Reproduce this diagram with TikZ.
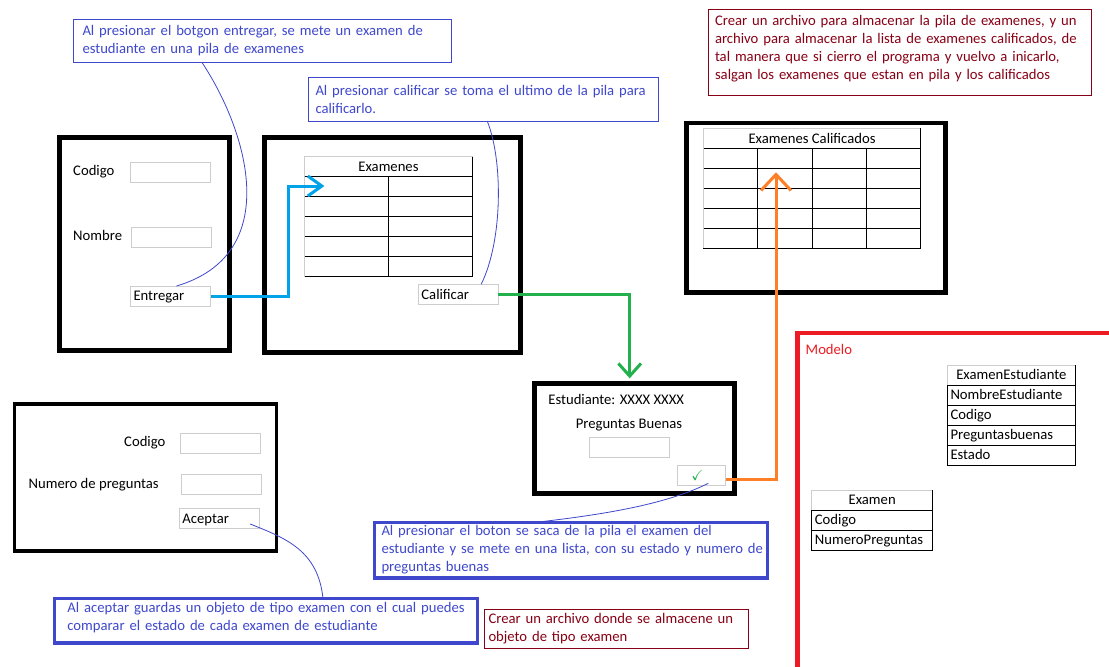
\documentclass[tikz,border=0pt]{standalone}
\usepackage{fontspec}
\setmainfont{Carlito}
\usepackage{amssymb}
\usetikzlibrary{arrows.meta}
\usetikzlibrary{positioning}

\definecolor{noteblue}{RGB}{63,72,204}
\definecolor{notered}{RGB}{136,0,21}
\definecolor{modelred}{RGB}{237,28,36}
\definecolor{pushblue}{RGB}{0,162,232}
\definecolor{gradegreen}{RGB}{34,177,76}
\definecolor{saveorange}{RGB}{255,127,39}
\definecolor{boxgray}{RGB}{205,205,205}

\newcommand{\ui}{\fontsize{14.67}{18}\selectfont}

\tikzset{
  win/.style={draw, line width=5pt, inner sep=0pt, outer sep=0pt},
  field/.style={draw=boxgray, line width=1pt, minimum width=80pt, minimum height=20pt, inner sep=0pt, outer sep=0pt},
  button/.style={field, text width=74pt, inner xsep=3pt, align=left, text height=12pt, text depth=2.6pt},
  lbl/.style={inner sep=0pt, text height=12pt, text depth=2.6pt},
  note/.style={draw=noteblue, text=noteblue, line width=1pt, anchor=north west, align=left,
    inner xsep=1pt, inner ysep=0pt, outer sep=0pt, execute at begin node={\leftskip=#1}},
  note/.default=6pt,
  filenote/.style={note=#1, draw=notered, text=notered},
  filenote/.default=6pt,
  callout/.style={draw=noteblue, line width=0.8pt},
  gridhead/.style={draw=boxgray, line width=1pt, minimum height=20pt, inner sep=0pt, outer sep=0pt, anchor=north west, text height=12pt, text depth=2.6pt},
  attr/.style={draw, line width=1pt, minimum height=20pt, inner xsep=3pt, inner ysep=0pt, outer sep=0pt, anchor=north west, align=left, text height=12pt, text depth=2.6pt},
  flow/.style={line width=3pt, -{Straight Barb[length=14pt,width=20pt]}},
}

\begin{document}
\begin{tikzpicture}[x=1pt, y=-1pt, font=\ui]
\useasboundingbox[fill=white] (0,0) rectangle (1109,667);

% entregar examen
\node[win, minimum width=169.6pt, minimum height=212.5pt] (student) at (144.7,243.75) {};
\node[lbl, anchor=west] (codigo) at (73,170.7) {Codigo};
\node[field] (codigo-in) at (170.5,172.3) {};
\node[lbl, anchor=west] (nombre) at (73,235.3) {Nombre};
\node[field] (nombre-in) at (171.4,237.3) {};
\node[button] (entregar) at (170.5,296) {Entregar};

% pila de examenes
\node[win, minimum width=255.6pt, minimum height=215.3pt] (stack) at (392.2,245.1) {};
\node[gridhead, minimum width=168pt] (pila) at (304.5,156.7) {Examenes};
\foreach \r in {0,...,5}
  \draw[line width=1pt] ([yshift=-20pt*\r]pila.south west) -- ++(168,0);
\draw[line width=1pt] (pila.south) -- ++(0,100);
\draw[line width=1pt] (pila.north east) -- ++(0,120);
\draw[boxgray, line width=1pt] (pila.south west) -- ++(0,100);
\node[button] (calificar) at (458.4,294.3) {Calificar};

\node[note=8pt, minimum width=377.5pt, minimum height=42.2pt, text width=375.5pt] (note-entregar) at (73.5,19.8)
  {Al presionar el botgon entregar, se mete un examen de\\estudiante en una pila de examenes};
\draw[callout] ([xshift=128.2pt]note-entregar.south west) .. controls (250,135) and (282,255) .. ([xshift=6pt]entregar.north);

\node[note=6pt, minimum width=350pt, minimum height=44pt, text width=348pt] (note-calificar) at (308.5,77)
  {Al presionar calificar se toma el ultimo de la pila para\\calificarlo.};
\draw[callout] ([xshift=178.7pt]note-calificar.south west) .. controls (503,160) and (503,240) .. ([xshift=22.8pt]calificar.north);

% examenes calificados
\node[win, line width=4.3pt, minimum width=258.9pt, minimum height=169.6pt] (graded) at (816,207.7) {};
\node[gridhead, minimum width=217.5pt] (calificados) at (703.3,128.3) {Examenes Calificados};
\foreach \r in {0,...,5}
  \draw[line width=1pt] ([yshift=-20pt*\r]calificados.south west) -- ++(217.5,0);
\foreach \c in {1,2,3}
  \draw[line width=1pt] ([xshift=54.4pt*\c]calificados.south west) -- ++(0,100);
\draw[line width=1pt] (calificados.north east) -- ++(0,120);
\draw[boxgray, line width=1pt] (calificados.south west) -- ++(0,100);

\node[filenote=5.5pt, minimum width=383pt, minimum height=86pt, text width=381pt] (note-files) at (708.5,9.5)
  {Crear un archivo para almacenar la pila de examenes, y un\\archivo para almacenar la lista de examenes calificados, de\\tal manera que si cierro el programa y vuelvo a inicarlo,\\salgan los examenes que estan en pila y los calificados\par\vspace*{8pt}};

% crear examen
\node[win, line width=3.5pt, minimum width=262.3pt, minimum height=147pt] (exam) at (145.5,477.5) {};
\node[lbl, anchor=east] (exam-codigo) at (165.6,441.7) {Codigo};
\node[field] (exam-codigo-in) at (220.5,443.3) {};
\node[lbl, anchor=west] (preguntas) at (28.4,483.3) {Numero de preguntas};
\node[field] (preguntas-in) at (221.5,484.3) {};
\node[button] (aceptar) at (219.4,518.3) {Aceptar};

\node[note=12pt, line width=3.5pt, minimum width=422.9pt, minimum height=44.7pt, text width=420.9pt] (note-aceptar) at (54.4,598.5)
  {Al aceptar guardas un objeto de tipo examen con el cual puedes\\comparar el estado de cada examen de estudiante\par\vspace*{6pt}};
\draw[callout] ([xshift=-9.2pt,yshift=-5.7pt]aceptar.east) .. controls (285,538) and (318,550) .. ([xshift=268.6pt]note-aceptar.north west);

% calificar examen
\node[win, minimum width=199.7pt, minimum height=109.7pt] (grade) at (634.3,438.3) {};
\node[lbl, anchor=west] (estudiante) at (548.2,400) {Estudiante: XXXX XXXX};
\node[lbl, anchor=west] (buenas) at (575.6,423.7) {Preguntas Buenas};
\node[field] (buenas-in) at (629.5,447.3) {};
\node[field, minimum width=48.4pt] (check) at (701.5,475.2) {\hspace*{-8pt}\textcolor{gradegreen}{$\checkmark$}};

\node[note=6.2pt, line width=3.5pt, minimum width=393.4pt, minimum height=55.7pt, text width=391.4pt] (note-check) at (374.3,522.3)
  {Al presionar el boton se saca de la pila el examen del\\estudiante y se mete en una lista, con su estado y numero de\\preguntas buenas};
\draw[callout] ([xshift=6.8pt,yshift=-8.1pt]check.center) .. controls (665,505) and (600,515) .. ([xshift=161.4pt]note-check.north west);

\node[filenote=3.5pt, minimum width=264.5pt, minimum height=38.5pt, text width=262.5pt] (note-modelo) at (484,609.5)
  {Crear un archivo donde se almacene un\\objeto de tipo examen};

% flujo
\coordinate (push) at (324.4,186);
\coordinate (grade-in) at (629.7,378.3);
\coordinate (graded-in) at (776,172.3);
\draw[flow, pushblue] (entregar.east) -| ([xshift=-36.4pt]push) -- (push);
\draw[flow, gradegreen, -{Straight Barb[length=12.6pt,width=22.6pt]}] (calificar.east) -| (grade-in);
\draw[flow, saveorange, -{Straight Barb[length=16pt,width=30pt]}] ([yshift=-4pt]check.east) -| (graded-in);

% modelo
\draw[modelred, line width=4.5pt] (797.5,680) |- (1120,333);
\node[lbl, anchor=west, text=modelred] (modelo) at (805.5,349.3) {Modelo};

\node[gridhead, minimum width=127.7pt] (exam-est) at (947.5,365) {ExamenEstudiante};
\foreach \a [count=\i from 0] in {NombreEstudiante,Codigo,Preguntasbuenas,Estado}
  \node[attr, minimum width=127.7pt, text width=121.7pt] (exam-est-\i) at ([yshift=-20pt*\i]exam-est.south west) {\a};
\draw[line width=1pt] (exam-est.north east) -- (exam-est.south east);

\node[gridhead, minimum width=120.6pt] (examen) at (811.9,490) {Examen};
\foreach \a [count=\i from 0] in {Codigo,NumeroPreguntas}
  \node[attr, minimum width=120.6pt, text width=114.6pt] (examen-\i) at ([yshift=-20pt*\i]examen.south west) {\a};
\draw[line width=1pt] (examen.north east) -- (examen.south east);
\end{tikzpicture}
\end{document}
